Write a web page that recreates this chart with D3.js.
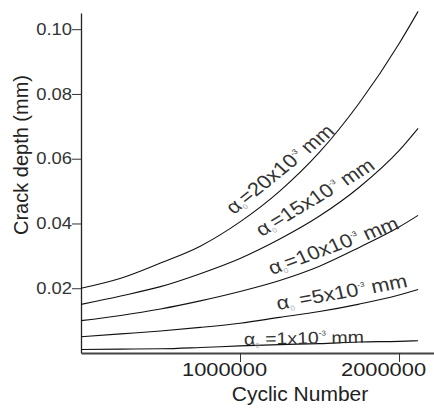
<!DOCTYPE html>
<html>
<head>
<meta charset="utf-8">
<script src="https://cdn.jsdelivr.net/npm/d3@7"></script>
<style>
body { margin: 0; background: #fff; }
text { font-family: "Liberation Sans", Arial, sans-serif; }
</style>
</head>
<body>
<svg width="434" height="414"></svg>
<script>
// cyclic number samples
let cycles = [0, 250000, 500000, 750000, 1000000, 1250000, 1500000, 1750000, 2000000, 2120000];

// crack depth (mm) for each initial crack size
let depth20 = [0.0200, 0.0231, 0.0278, 0.0330, 0.0405, 0.0500, 0.0620, 0.0772, 0.0955, 0.1055];
let depth15 = [0.0150, 0.0176, 0.0205, 0.0245, 0.0292, 0.0352, 0.0423, 0.0512, 0.0625, 0.0694];
let depth10 = [0.0100, 0.0116, 0.0136, 0.0161, 0.0190, 0.0224, 0.0268, 0.0326, 0.0389, 0.0425];
let depth5  = [0.0050, 0.0059, 0.0068, 0.0079, 0.0092, 0.0110, 0.0128, 0.0151, 0.0179, 0.0196];
let depth1  = [0.0011, 0.0012, 0.0013, 0.0017, 0.0022, 0.0026, 0.0029, 0.0034, 0.0036, 0.0038];

let seriesData = [depth20, depth15, depth10, depth5, depth1];

// curve labels: text pieces, anchor (cycles, depth) and angle in degrees
let labelSize = ['=20x10', '=15x10', '=10x10', ' =5x10', ' =1x10'];
let labelN = [962000, 1138000, 1201000, 1239000, 1025000];
let labelA = [0.0426, 0.0358, 0.0241, 0.0133, 0.0025];
let labelAngle = [39, 31, 20, 10, 1];

let xTicks = [1000000, 2000000];
let yTicks = [0.02, 0.04, 0.06, 0.08, 0.10];

let svg = d3.select('svg');
let stretch = 1.15;

let xScale = d3.scaleLinear().domain([0, 2220000]).range([81, 434]);
let yScale = d3.scaleLinear().domain([0, 0.105]).range([353, 13]);

// axes
let yAxis = svg.append('g')
    .attr('transform', `translate(${xScale(0)},0)`)
    .call(d3.axisLeft(yScale).tickValues(yTicks).tickFormat(d3.format('.2f'))
        .tickSize(9).tickPadding(0).tickSizeOuter(0));
yAxis.select('.domain').attr('stroke', '#222').attr('stroke-width', 1.3);
yAxis.selectAll('.tick line').attr('stroke', '#333');
yAxis.selectAll('.tick text')
    .attr('x', 0)
    .attr('transform', `translate(-9,0) scale(${stretch},1)`)
    .attr('font-size', 16)
    .attr('fill', '#333');

let xAxis = svg.append('g')
    .attr('transform', `translate(0,${yScale(0)})`)
    .call(d3.axisBottom(xScale).tickValues(xTicks).tickFormat(d3.format('d'))
        .tickSize(9).tickPadding(1).tickSizeOuter(0));
xAxis.select('.domain').attr('stroke', '#444').attr('stroke-width', 2);
xAxis.selectAll('.tick line').attr('stroke', '#333');
xAxis.selectAll('.tick text')
    .attr('y', 0)
    .attr('transform', `translate(-16,10) scale(${stretch},1)`)
    .attr('font-size', 19)
    .attr('fill', '#222');

// axis titles
svg.append('text')
    .attr('x', 300)
    .attr('y', 401)
    .attr('text-anchor', 'middle')
    .attr('font-size', 21)
    .attr('fill', '#222')
    .text('Cyclic Number');

svg.append('text')
    .attr('transform', 'translate(28,155) rotate(-90)')
    .attr('text-anchor', 'middle')
    .attr('font-size', 20)
    .attr('fill', '#222')
    .text('Crack depth (mm)');

// curves
let line = d3.line()
    .x((d, i) => xScale(cycles[i]))
    .y(d => yScale(d))
    .curve(d3.curveMonotoneX);

svg.selectAll('.curve').data(seriesData)
    .enter().append('path')
    .attr('class', 'curve')
    .attr('d', line)
    .attr('fill', 'none')
    .attr('stroke', '#111')
    .attr('stroke-width', 1.1);

// curve labels (the picture is a bit wider than tall, so stretch the text)
labelSize.forEach((s, i) => {
    let rad = labelAngle[i] * Math.PI / 180;
    let inner = Math.atan(stretch * Math.tan(rad)) * 180 / Math.PI;
    let t = svg.append('text')
        .attr('transform', `translate(${xScale(labelN[i])},${yScale(labelA[i])}) scale(${stretch},1) rotate(${-inner})`)
        .attr('font-size', labelAngle[i] > 5 ? 19 : 17)
        .attr('fill', '#333');
    t.append('tspan').text('\u03b1');
    t.append('tspan').attr('font-size', 7).attr('fill', '#aaa').attr('dy', 3).text('0');
    t.append('tspan').attr('dy', -3).text(s);
    t.append('tspan').attr('font-size', 7).attr('dy', -8).text('-3');
    t.append('tspan').attr('dy', 8).text('\u00a0mm');
});
</script>
</body>
</html>
